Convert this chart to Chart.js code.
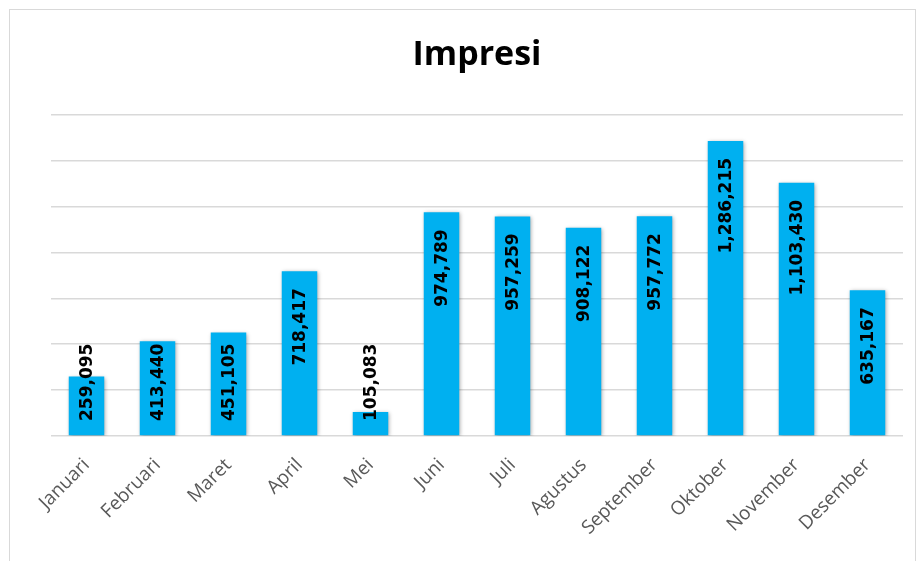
<!DOCTYPE html>
<html>
<head>
<meta charset="utf-8">
<script src="https://cdn.jsdelivr.net/npm/chart.js@4/dist/chart.umd.min.js"></script>
<style>
  html, body { margin:0; padding:0; background:#fff; }
  #frame { position:absolute; left:9px; top:9px; width:905px; height:560px; border:1px solid #d9d9d9; }
  #wrap  { position:absolute; left:0; top:0; width:918px; height:561px; }
</style>
</head>
<body>
<div id="frame"></div>
<div id="wrap"><canvas id="ch-impresi"></canvas></div>
<script>
// monthly impressions
const MONTHS = ['Januari','Februari','Maret','April','Mei','Juni','Juli','Agustus','September','Oktober','November','Desember'];
const IMPRESI = [259095, 413440, 451105, 718417, 105083, 974789, 957259, 908122, 957772, 1286215, 1103430, 635167];
const Y_MAX = 1400000, Y_STEP = 200000;

// soft drop shadow under the bars
const barShadow = {
  id: 'barShadow',
  beforeDatasetsDraw(chart) {
    const ctx = chart.ctx;
    ctx.save();
    ctx.shadowColor = 'rgba(0,0,0,0.35)';
    ctx.shadowBlur = 4;
    ctx.shadowOffsetX = 1;
    ctx.shadowOffsetY = 1;
  },
  afterDatasetsDraw(chart) { chart.ctx.restore(); }
};

// vertical value labels near the bar tops, pushed up when the bar is too short
const valueLabels = {
  id: 'valueLabels',
  afterDatasetsDraw(chart) {
    const ctx = chart.ctx;
    const base = chart.scales.y.getPixelForValue(0);
    const meta = chart.getDatasetMeta(0);
    ctx.save();
    ctx.font = 'bold 17px "DejaVu Sans"';
    ctx.fillStyle = '#000';
    ctx.textBaseline = 'middle';
    meta.data.forEach((bar, i) => {
      const txt = IMPRESI[i].toLocaleString('en-US');
      const w = ctx.measureText(txt).width;
      let top = bar.y + 17;
      if (top + w > base - 15) top = base - 15 - w;
      ctx.save();
      ctx.translate(bar.x, top + w);
      ctx.rotate(-Math.PI / 2);
      ctx.textAlign = 'left';
      ctx.fillText(txt, 0, 1);
      ctx.restore();
    });
    ctx.restore();
  }
};

new Chart(document.getElementById('ch-impresi'), {
  type: 'bar',
  data: {
    labels: MONTHS,
    datasets: [{
      data: IMPRESI,
      backgroundColor: '#00B0F0',
      borderWidth: 0,
      barPercentage: 0.5,
      categoryPercentage: 1,
    }]
  },
  options: {
    responsive: true, maintainAspectRatio: false, animation: false,
    layout: { padding: { left: 51, right: 15, top: 0, bottom: 0 } },
    plugins: {
      legend: { display: false },
      tooltip: { enabled: false },
      title: {
        display: true, text: 'Impresi', color: '#000',
        font: { family: '"Open Sans"', size: 34, weight: 'bold' },
        padding: { top: 35, bottom: 39 }
      }
    },
    scales: {
      x: {
        grid: { display: false },
        border: { display: false },
        ticks: {
          color: '#595959', font: { family: '"Open Sans"', size: 19 },
          minRotation: 45, maxRotation: 45, padding: 10
        },
        afterFit: s => { s.height = 125; }
      },
      y: {
        min: 0, max: Y_MAX,
        ticks: { display: false, stepSize: Y_STEP },
        grid: { color: '#d9d9d9', lineWidth: 1.5, drawTicks: false },
        border: { display: false },
        afterFit: s => { s.width = 0; }
      }
    }
  },
  plugins: [barShadow, valueLabels]
});
</script>
</body>
</html>
